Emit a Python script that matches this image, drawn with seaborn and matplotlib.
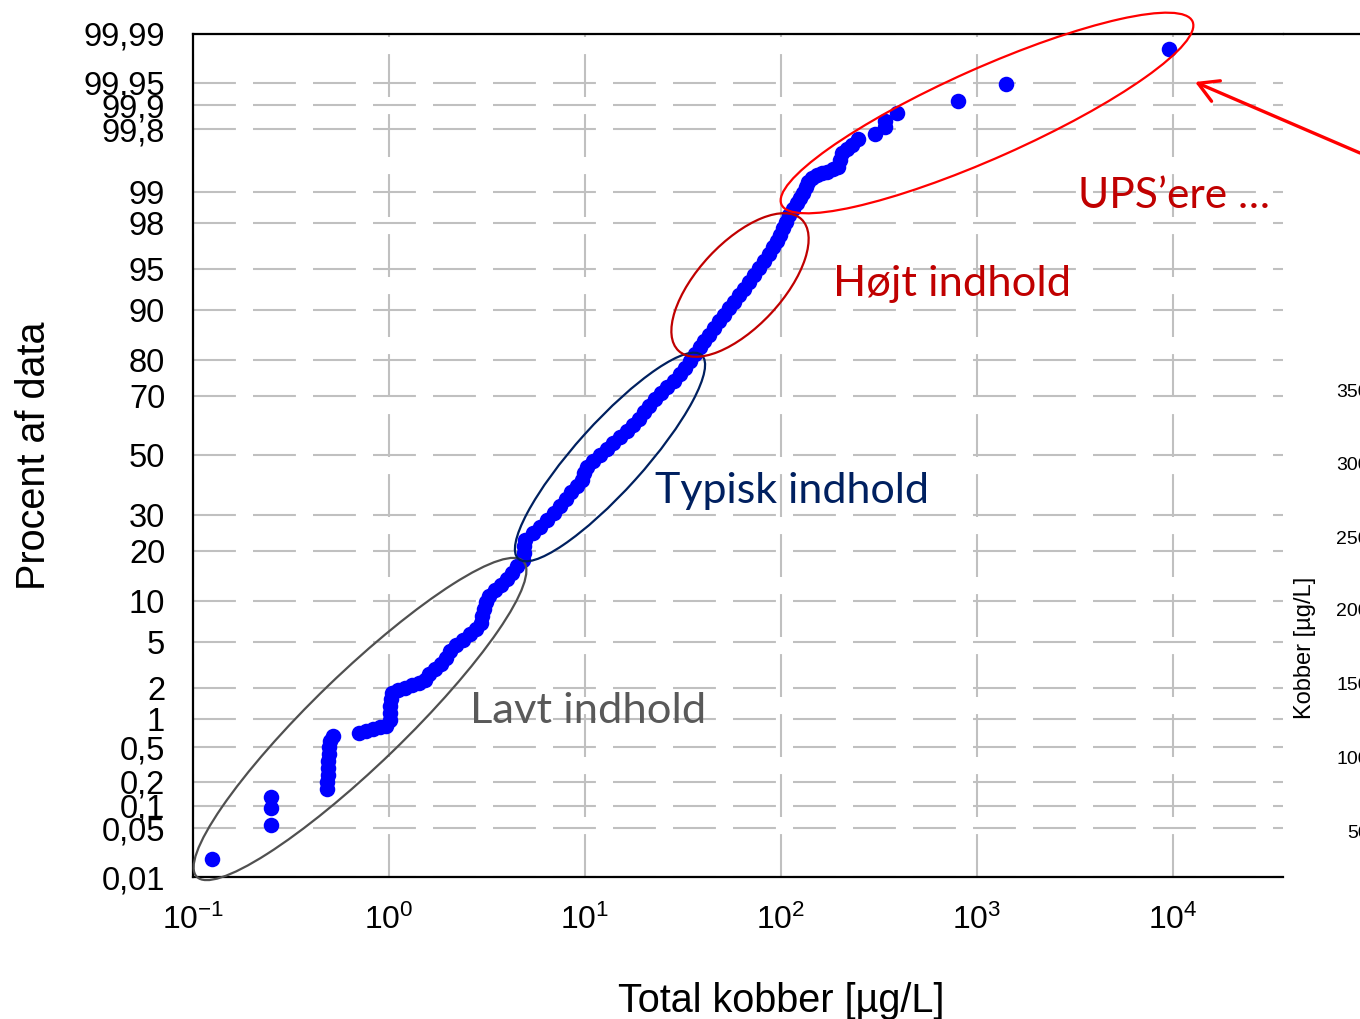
import numpy as np
import pandas as pd
import seaborn as sns
import matplotlib
matplotlib.use("Agg")
import matplotlib.pyplot as plt
from matplotlib.patches import Ellipse, FancyArrowPatch
from matplotlib.lines import Line2D
from matplotlib.ticker import NullLocator, FixedLocator, FixedFormatter
from statistics import NormalDist

# ---------------- data ----------------
kobber_ugL = [
    0.125, 0.25, 0.25, 0.25,
    0.483, 0.483, 0.488, 0.488, 0.488, 0.494, 0.494, 0.50, 0.518,
    0.703, 0.763, 0.829, 0.90, 0.965,
    1.012, 1.012, 1.012, 1.024, 1.036,
    1.11, 1.21, 1.31, 1.42, 1.53, 1.60, 1.72, 1.84, 1.95, 2.05, 2.20, 2.39,
    2.59, 2.78, 2.95, 2.98, 3.05, 3.13, 3.24, 3.47, 3.73, 4.00, 4.24, 4.50,
    4.83, 4.89, 4.89, 4.94,
    5.43, 5.89, 6.40, 6.95, 7.46, 8.00, 8.48, 9.10, 9.65, 9.88, 10.2, 11.0,
    11.9, 12.9, 13.9, 15.1, 16.4, 17.6, 18.9, 20.0, 21.2, 22.8, 24.4, 26.2,
    28.5, 30.5, 32.4, 34.3, 36.4, 38.6,
    40.5, 42.9, 45.5, 48.3, 51.2, 54.3, 57.6, 61.1, 64.8, 68.7, 72.8, 77.2,
    81.9, 86.9, 91.0, 95.4, 98.8, 102, 106, 110, 115, 121,
    125, 130, 134, 137, 144, 153, 162, 172, 184, 195, 200, 205, 217, 230,
    247, 302, 339, 339, 391, 800, 1406, 9540,
]
procent_af_data = [
    0.0185, 0.055, 0.093, 0.129,
    0.165, 0.198, 0.242, 0.294, 0.352, 0.424, 0.508, 0.59, 0.669,
    0.72, 0.756, 0.79, 0.83, 0.85,
    0.99, 1.16, 1.36, 1.59, 1.80,
    1.93, 2.02, 2.15, 2.24, 2.39, 2.70, 2.99, 3.30, 3.71, 4.24, 4.73, 5.19,
    5.78, 6.31, 6.99, 7.84, 8.80, 9.81, 10.78, 11.78, 12.68, 13.80, 15.02, 16.5,
    17.85, 19.5, 21.2, 22.8,
    24.7, 26.4, 28.5, 30.6, 32.8, 35.1, 37.4, 39.4, 41.5, 43.9, 46.0, 48.1,
    50.2, 52.3, 54.4, 56.5, 58.5, 60.6, 62.6, 64.9, 66.9, 69.1, 70.9, 72.7,
    74.5, 76.4, 78.0, 79.8, 81.5, 83.1,
    84.4, 85.6, 86.9, 88.2, 89.2, 90.4, 91.2, 92.2, 92.9, 93.7, 94.4, 95.1,
    95.7, 96.2, 96.7, 97.1, 97.4, 97.77, 98.03, 98.31, 98.52, 98.70,
    98.85, 98.97, 99.10, 99.21, 99.28, 99.33, 99.37, 99.38, 99.42, 99.45,
    99.54, 99.62, 99.66, 99.69, 99.74, 99.77, 99.81, 99.84, 99.874, 99.912,
    99.948, 99.983,
]

y_ticks = [0.01, 0.05, 0.1, 0.2, 0.5, 1, 2, 5, 10, 20, 30, 50, 70, 80, 90,
           95, 98, 99, 99.8, 99.9, 99.95, 99.99]
y_tick_labels = ["0,01", "0,05", "0,1", "0,2", "0,5", "1", "2", "5", "10", "20",
                 "30", "50", "70", "80", "90", "95", "98", "99", "99,8", "99,9",
                 "99,95", "99,99"]
x_ticks = [0.1, 1, 10, 100, 1000, 10000]
x_tick_labels = [r"$\mathrm{10^{-1}}$", r"$\mathrm{10^{0}}$", r"$\mathrm{10^{1}}$",
                 r"$\mathrm{10^{2}}$", r"$\mathrm{10^{3}}$", r"$\mathrm{10^{4}}$"]

x_label = "Total kobber [µg/L]"
y_label = "Procent af data"
group_labels = ["Lavt indhold", "Typisk indhold", "Højt indhold", "UPS’ere …"]

side_ticks = ["350", "300", "250", "200", "150", "100", "50"]
side_label = "Kobber [µg/L]"

# ---------------- style ----------------
sns.set_style("white")
plt.rcParams["font.family"] = ["Liberation Sans", "DejaVu Sans"]
plt.rcParams["text.color"] = "black"
plt.rcParams["axes.labelcolor"] = "black"
plt.rcParams["mathtext.fontset"] = "custom"
plt.rcParams["mathtext.rm"] = "Liberation Sans"
plt.rcParams["mathtext.it"] = "Liberation Sans:italic"
plt.rcParams["mathtext.bf"] = "Liberation Sans:bold"

_nd = NormalDist()
_ppf = np.vectorize(lambda q: _nd.inv_cdf(q), otypes=[float])
_cdf = np.vectorize(lambda z: _nd.cdf(z), otypes=[float])


def fwd(p):
    p = np.asarray(p, dtype=float)
    q = np.clip(p / 100.0, 1e-9, 1 - 1e-9)
    return _ppf(q)


def inv(z):
    z = np.asarray(z, dtype=float)
    return 100.0 * _cdf(z)


W, H = 1360, 1019
fig = plt.figure(figsize=(W / 100, H / 100), dpi=100)
ax = fig.add_axes([193 / W, 1 - 877 / H, (1283 - 193) / W, (877 - 34) / H])

df = pd.DataFrame({"kobber": kobber_ugL, "procent": procent_af_data})
sns.scatterplot(data=df, x="kobber", y="procent", ax=ax, s=125,
                color="#0000FF", linewidth=0, zorder=3, legend=False)

ax.set_xscale("log")
ax.set_yscale("function", functions=(fwd, inv))
ax.set_xlim(0.1, 10 ** (4 + 110 / 196))
ax.set_ylim(0.01, 99.99)

ax.xaxis.set_major_locator(FixedLocator(x_ticks))
ax.xaxis.set_major_formatter(FixedFormatter(x_tick_labels))
ax.xaxis.set_minor_locator(NullLocator())
ax.yaxis.set_major_locator(FixedLocator(y_ticks))
ax.yaxis.set_major_formatter(FixedFormatter(y_tick_labels))
ax.yaxis.set_minor_locator(NullLocator())

ax.tick_params(axis="both", direction="out", length=8, width=1.5,
               colors="black", labelsize=23.5)
ax.tick_params(axis="y", pad=12)
ax.tick_params(axis="x", pad=12, labelsize=23)

dash = (0, (20.6, 8.2))
ax.grid(True, axis="both", which="major", color="#C0C0C0", linewidth=1.5,
        linestyle=dash)
ax.set_axisbelow(True)

for side in ["left", "bottom", "top"]:
    ax.spines[side].set_color("black")
    ax.spines[side].set_linewidth(1.6)
ax.spines["right"].set_visible(False)
ax.add_line(Line2D([1, 1.08], [1, 1], transform=ax.transAxes, color="black",
                   lw=1.6, clip_on=False))

ax.set_xlabel(x_label, fontsize=28.5, color="black")
ax.set_ylabel(y_label, fontsize=28.5, color="black")
ax.xaxis.set_label_coords((781 - 193) / 1090, -0.124)
ax.yaxis.set_label_coords(-0.1286, 0.5)

# ---------------- annotations ----------------
px = fig.dpi_scale_trans


def ell(cx, cy, w, h, ang, col):
    e = Ellipse((cx / 100, (H - cy) / 100), w / 100, h / 100, angle=ang,
                transform=px, fill=False, edgecolor=col, linewidth=1.6,
                zorder=5)
    fig.add_artist(e)


ell(360, 719, 454, 92, 44, "#505050")
ell(610, 457, 274, 68, 48, "#002060")
ell(740, 285, 180, 84, 47, "#C00000")
ell(987, 113, 450, 90, 24, "#FF0000")

tfont = ["Lato", "DejaVu Sans"]
fig.text(470 / W, 1 - 723 / H, group_labels[0], color="#595959", fontsize=31.3,
         family=tfont, va="baseline", ha="left")
fig.text(655 / W, 1 - 503 / H, group_labels[1], color="#002060", fontsize=31,
         family=tfont, va="baseline", ha="left")
fig.text(833 / W, 1 - 296 / H, group_labels[2], color="#C00000", fontsize=31.3,
         family=tfont, va="baseline", ha="left")
fig.text(1078 / W, 1 - 208 / H, group_labels[3], color="#C00000", fontsize=30.6,
         family=tfont, va="baseline", ha="left")

fig.add_artist(FancyArrowPatch(
    (1.0, 1 - 153 / H), (1195 / W, 1 - 82 / H), transform=fig.transFigure,
    arrowstyle="->,head_length=14,head_width=8", color="#FF0000", lw=2.4,
    shrinkA=0, shrinkB=0, mutation_scale=1))

# remnants of neighbouring chart at right edge
side_y = [392, 465, 539, 612, 686, 760, 833]
for lab, yy in zip(side_ticks, side_y):
    fig.text(1369 / W, 1 - yy / H, lab, fontsize=14, ha="right", va="center")
fig.text(1305 / W, 1 - 648 / H, side_label, fontsize=17, rotation=90,
         ha="center", va="center")

fig.savefig("out.png", dpi=100)
